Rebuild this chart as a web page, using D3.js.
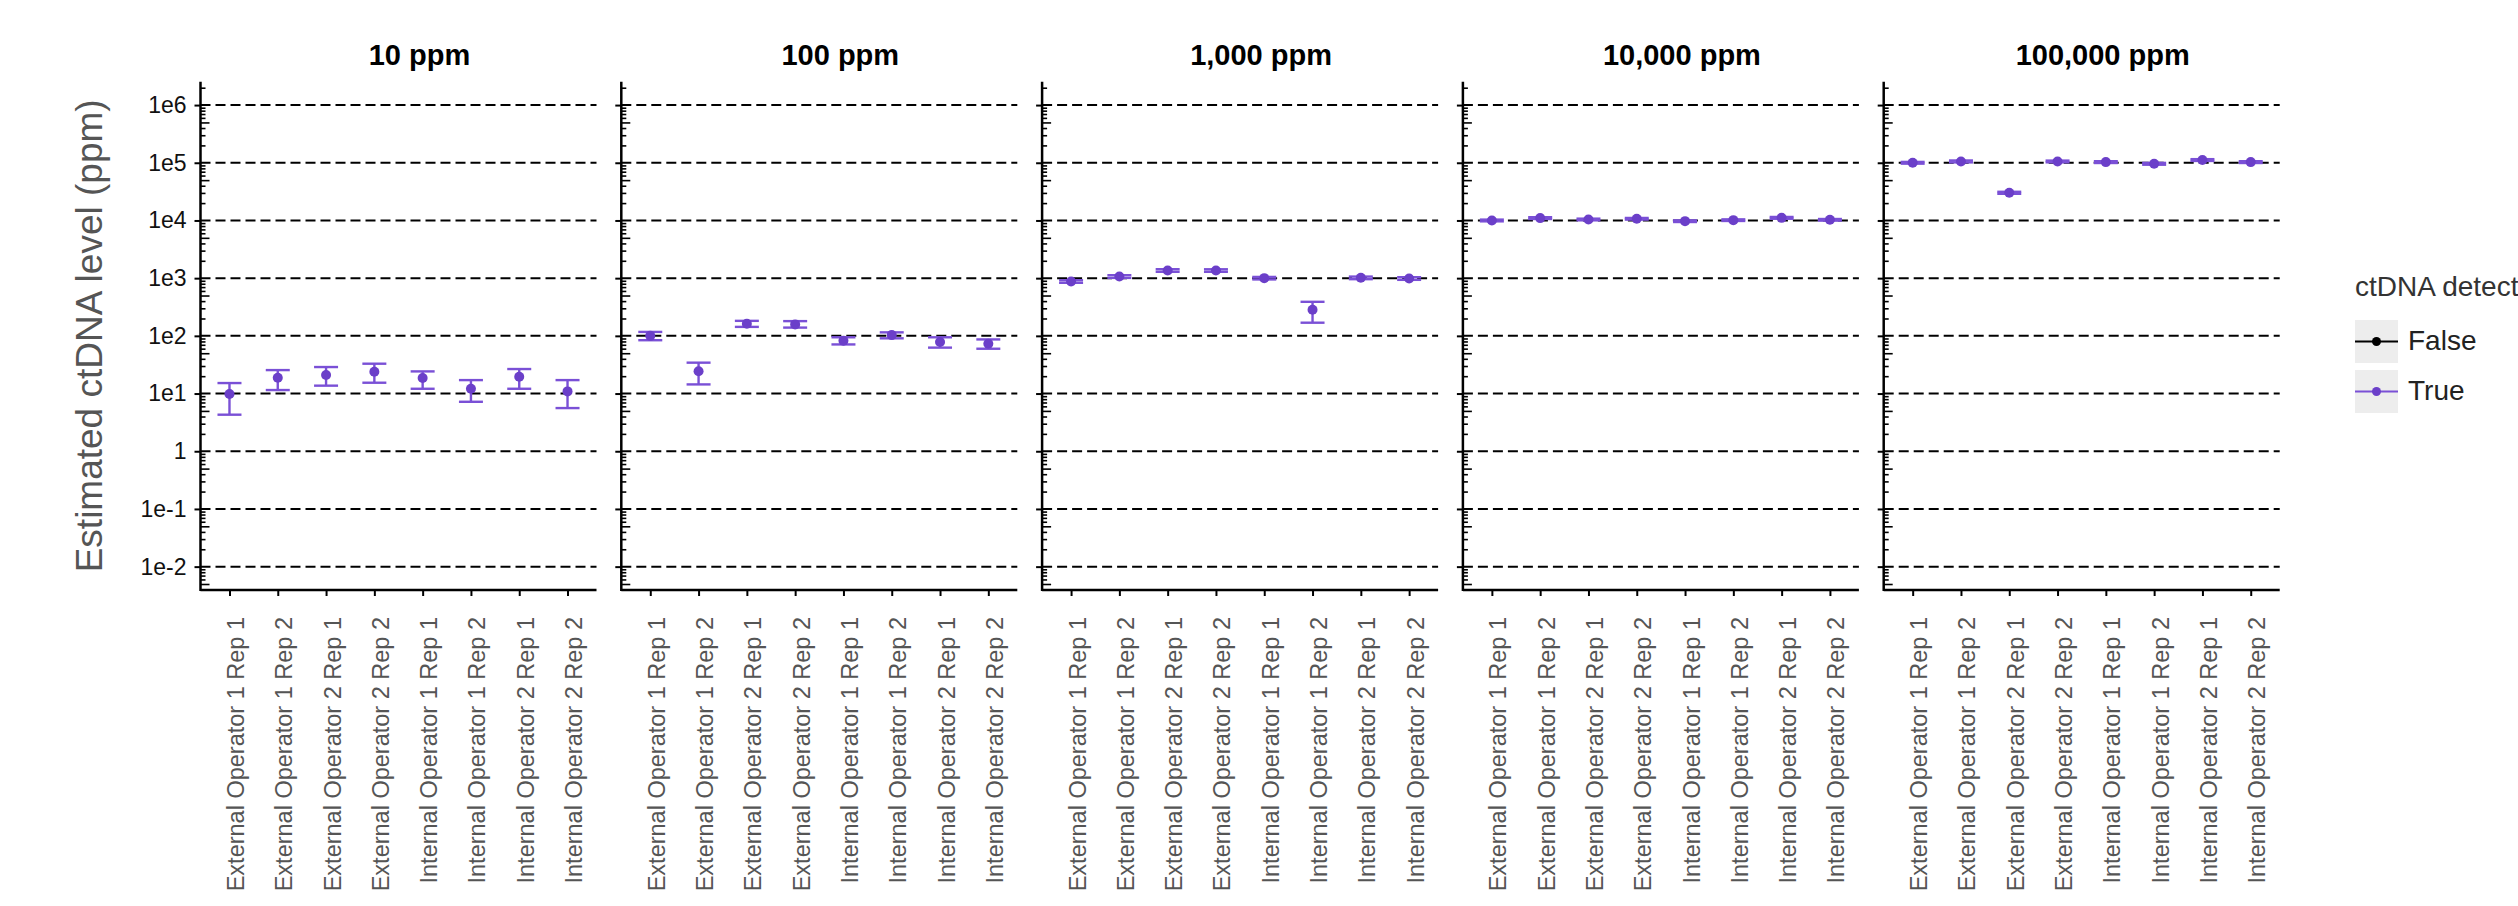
<!DOCTYPE html>
<html>
<head>
<meta charset="utf-8">
<script src="https://cdnjs.cloudflare.com/ajax/libs/d3/7.8.5/d3.min.js"></script>
<style>
  html, body { margin: 0; padding: 0; background: #fff; }
  text { font-family: "Liberation Sans", Arial, Helvetica, sans-serif; }
</style>
</head>
<body>
<div id="chart"></div>
<script>
// panel titles and x categories
var panels = ["10 ppm", "100 ppm", "1,000 ppm", "10,000 ppm", "100,000 ppm"];
var samples = [
    "External Operator 1 Rep 1", "External Operator 1 Rep 2",
    "External Operator 2 Rep 1", "External Operator 2 Rep 2",
    "Internal Operator 1 Rep 1", "Internal Operator 1 Rep 2",
    "Internal Operator 2 Rep 1", "Internal Operator 2 Rep 2"
];
var detectedLevels = ["False", "True"];

// estimated ctDNA level (ppm) with lower / upper bounds, one set per panel
var est10 = [9.8, 18.8, 20.9, 23.9, 18.6, 12.1, 19.6, 10.9];
var lo10 = [4.3, 11.5, 13.7, 15.4, 12.1, 7.2, 12.1, 5.6];
var hi10 = [15.2, 25.5, 28.8, 32.9, 24.2, 17.1, 26.6, 17.1];

var est100 = [100, 24.4, 162, 158, 82, 103, 78.5, 73];
var lo100 = [84, 14.4, 143, 139, 71, 90.6, 62.5, 59.8];
var hi100 = [117, 34.3, 182, 180, 94.4, 115, 94.4, 86.7];

var est1k = [875, 1069, 1358, 1358, 1000, 283, 1013, 987];
var lo1k = [830, 1010, 1290, 1290, 950, 169, 960, 935];
var hi1k = [920, 1125, 1430, 1425, 1050, 389, 1065, 1040];

var est10k = [10000, 10990, 10400, 10700, 9730, 10130, 11100, 10270];
var lo10k = [9650, 10600, 10050, 10350, 9400, 9800, 10700, 9930];
var hi10k = [10350, 11400, 10750, 11050, 10050, 10450, 11500, 10600];

var est100k = [100000, 105500, 30200, 105500, 102700, 96000, 111400, 102700];
var lo100k = [96500, 101500, 29000, 101800, 99000, 92500, 107500, 99000];
var hi100k = [103500, 109500, 31400, 109000, 106400, 99500, 115500, 106400];

var detected = [true, true, true, true, true];

var yTicks = [1e-2, 1e-1, 1, 1e1, 1e2, 1e3, 1e4, 1e5, 1e6];
var yTickLabels = ["1e-2", "1e-1", "1", "1e1", "1e2", "1e3", "1e4", "1e5", "1e6"];

var series = [
    [est10, lo10, hi10],
    [est100, lo100, hi100],
    [est1k, lo1k, hi1k],
    [est10k, lo10k, hi10k],
    [est100k, lo100k, hi100k]
];

var width = 2518, height = 906;
var panelLeft = 200.5, panelStep = 420.8, panelWidth = 396,
    plotTop = 81.7, plotBottom = 590;

var color = d3.scaleOrdinal().domain(detectedLevels).range(["#000000", "#6b3fc9"]);
var barColor = d3.scaleOrdinal().domain(detectedLevels).range(["#000000", "#7a50d6"]);

var svg = d3.select("#chart").append("svg")
    .attr("width", width)
    .attr("height", height);

var y = d3.scaleLog()
    .domain([Math.pow(10, -2.405), Math.pow(10, 6.405)])
    .range([plotBottom, plotTop]);

// minor log ticks inside the domain
var minorTicks = [];
for (var e = -3; e <= 6; e++) {
    for (var k = 2; k <= 9; k++) {
        var v = k * Math.pow(10, e);
        if (v >= y.domain()[0] && v <= y.domain()[1]) minorTicks.push(v);
    }
}

panels.forEach(function (title, p) {
    var left = panelLeft + p * panelStep;
    var g = svg.append("g");
    var x = d3.scalePoint()
        .domain(samples)
        .range([left, left + panelWidth])
        .padding(0.6);

    var est = series[p][0], lo = series[p][1], hi = series[p][2];
    var key = detected[p] ? "True" : "False";

    // dashed grid at each decade
    g.selectAll("line.grid")
        .data(yTicks).enter()
        .append("line")
        .attr("class", "grid")
        .attr("x1", left).attr("x2", left + panelWidth)
        .attr("y1", function (d) { return y(d); })
        .attr("y2", function (d) { return y(d); })
        .attr("stroke", "#000")
        .attr("stroke-width", 2)
        .attr("stroke-dasharray", "10,5");

    // y axis: major ticks outwards, minor ticks inwards
    var yAxis = d3.axisLeft(y)
        .tickValues(yTicks)
        .tickSize(6)
        .tickPadding(8)
        .tickFormat(function (d, i) { return p === 0 ? yTickLabels[i] : ""; });
    var ya = g.append("g")
        .attr("transform", "translate(" + left + ",0)")
        .call(yAxis);
    ya.select(".domain").remove();
    ya.selectAll("line").attr("stroke", "#000").attr("stroke-width", 2);
    ya.selectAll("text")
        .attr("font-size", 23)
        .attr("fill", "#111");

    var minorAxis = d3.axisRight(y)
        .tickValues(minorTicks)
        .tickSize(5)
        .tickFormat("");
    var ym = g.append("g")
        .attr("transform", "translate(" + left + ",0)")
        .call(minorAxis);
    ym.select(".domain").remove();
    ym.selectAll(".tick line")
        .attr("stroke", "#000")
        .attr("stroke-width", 1.6)
        .attr("x2", function (d) {
            var m = Math.round(d / Math.pow(10, Math.floor(Math.log10(d) + 1e-9)));
            return m === 5 ? 9 : 5;
        });

    g.append("line")
        .attr("x1", left).attr("x2", left)
        .attr("y1", plotTop).attr("y2", plotBottom + 1)
        .attr("stroke", "#000")
        .attr("stroke-width", 2.5);

    // x axis with rotated sample labels
    var xAxis = d3.axisBottom(x).tickSize(6);
    var xa = g.append("g")
        .attr("transform", "translate(0," + plotBottom + ")")
        .call(xAxis);
    xa.select(".domain").remove();
    xa.selectAll("line").attr("stroke", "#000").attr("stroke-width", 2);
    xa.selectAll("text")
        .attr("x", 0).attr("y", 0).attr("dy", null)
        .attr("text-anchor", "end")
        .attr("transform", "translate(14,27) rotate(-90)")
        .attr("font-size", 23.5)
        .attr("fill", "#555");

    g.append("line")
        .attr("x1", left).attr("x2", left + panelWidth)
        .attr("y1", plotBottom).attr("y2", plotBottom)
        .attr("stroke", "#000")
        .attr("stroke-width", 2.5);

    // error bars
    var bars = g.selectAll("g.bar")
        .data(samples).enter()
        .append("g")
        .attr("class", "bar");
    bars.append("line")
        .attr("x1", function (d) { return x(d); })
        .attr("x2", function (d) { return x(d); })
        .attr("y1", function (d, i) { return y(lo[i]); })
        .attr("y2", function (d, i) { return y(hi[i]); })
        .attr("stroke", barColor(key))
        .attr("stroke-width", 2.4);
    [lo, hi].forEach(function (arr) {
        bars.append("line")
            .attr("x1", function (d) { return x(d) - 12; })
            .attr("x2", function (d) { return x(d) + 12; })
            .attr("y1", function (d, i) { return y(arr[i]); })
            .attr("y2", function (d, i) { return y(arr[i]); })
            .attr("stroke", barColor(key))
            .attr("stroke-width", 2.4);
    });
    bars.append("circle")
        .attr("cx", function (d) { return x(d); })
        .attr("cy", function (d, i) { return y(est[i]); })
        .attr("r", 5)
        .attr("fill", color(key));

    g.append("text")
        .attr("x", left + 219)
        .attr("y", 65)
        .attr("text-anchor", "middle")
        .attr("font-size", 29)
        .attr("font-weight", "bold")
        .attr("fill", "#000")
        .text(title);
});

svg.append("text")
    .attr("transform", "translate(102," + ((plotTop + plotBottom) / 2) + ") rotate(-90)")
    .attr("text-anchor", "middle")
    .attr("font-size", 37)
    .attr("fill", "#555")
    .text("Estimated ctDNA level (ppm)");

// legend
var legend = svg.append("g").attr("transform", "translate(2355,0)");
legend.append("text")
    .attr("x", 0).attr("y", 296)
    .attr("font-size", 28)
    .attr("fill", "#333")
    .text("ctDNA detected");

var items = legend.selectAll("g.item")
    .data(detectedLevels).enter()
    .append("g")
    .attr("class", "item")
    .attr("transform", function (d, i) { return "translate(0," + (320 + i * 50) + ")"; });
items.append("rect")
    .attr("width", 43).attr("height", 43)
    .attr("fill", "#ededed");
items.append("line")
    .attr("x1", 0).attr("x2", 43)
    .attr("y1", 21.5).attr("y2", 21.5)
    .attr("stroke", function (d) { return barColor(d); })
    .attr("stroke-width", 2.2);
items.append("circle")
    .attr("cx", 21.5).attr("cy", 21.5)
    .attr("r", 4.5)
    .attr("fill", function (d) { return color(d); });
items.append("text")
    .attr("x", 53).attr("y", 30)
    .attr("font-size", 28)
    .attr("fill", "#222")
    .text(function (d) { return d; });
</script>
</body>
</html>
